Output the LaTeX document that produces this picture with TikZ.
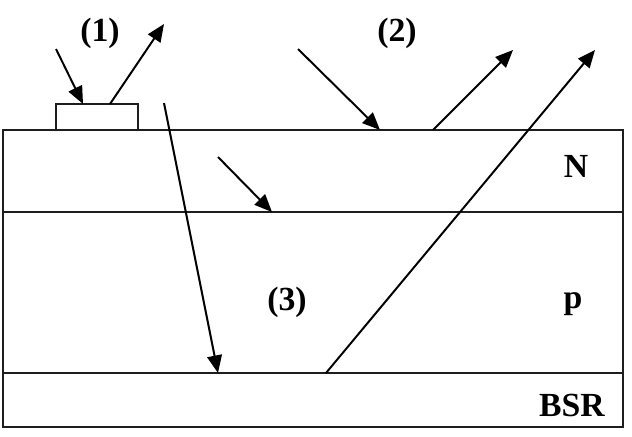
\documentclass[tikz,border=0pt]{standalone}
\usepackage{fontspec}
\setmainfont{Liberation Serif}
\usetikzlibrary{positioning,calc,arrows.meta}
\definecolor{linedark}{RGB}{30,30,30}

\begin{document}
\begin{tikzpicture}[x=0.025cm, y=-0.025cm, layer/.style={draw=linedark, line width=1.4pt}, ray/.style={-{Triangle[length=12.5pt,width=10.5pt]}, draw=black, line width=1.4pt}, tag/.style={inner sep=0pt, font=\fontsize{24}{27}\selectfont\bfseries}]
\useasboundingbox (0,0) rectangle (632,436);
\draw[layer] (3,130) rectangle (623,427);
\draw[layer] (3,212) -- (623,212);
\draw[layer] (3,373) -- (623,373);
\draw[layer] (56,104) rectangle (138,130);
\node[tag] (one) at (100,33) {(1)};
\node[tag] (two) at (397,33) {(2)};
\node[tag] (three) at (287,302) {(3)};
\node[tag] (nlay) at (576,166) {N};
\node[tag] (play) at (573,304) {p};
\node[tag] (bsr) at (572,405) {BSR};
\coordinate (a0) at (56,49);
\coordinate (a1) at (83,104);
\coordinate (b0) at (110,104);
\coordinate (b1) at (164,24);
\coordinate (c0) at (298,49);
\coordinate (c1) at (380,130);
\coordinate (d0) at (433,130);
\coordinate (d1) at (513,50);
\coordinate (e0) at (218,157);
\coordinate (e1) at (272,212);
\coordinate (f0) at (164,103);
\coordinate (f1) at (218,373);
\coordinate (g0) at (326,373);
\coordinate (g1) at (595,50);
\draw[ray] (a0) -- (a1);
\draw[ray] (b0) -- (b1);
\draw[ray] (c0) -- (c1);
\draw[ray] (d0) -- (d1);
\draw[ray] (e0) -- (e1);
\draw[ray] (f0) -- (f1);
\draw[ray] (g0) -- (g1);
\end{tikzpicture}
\end{document}
